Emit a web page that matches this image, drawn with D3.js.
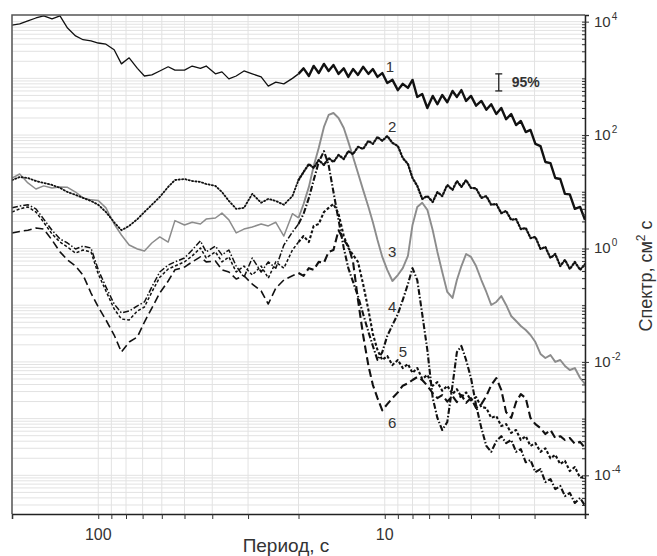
<!DOCTYPE html>
<html>
<head>
<meta charset="utf-8">
<script src="https://cdn.jsdelivr.net/npm/d3@7"></script>
<style>
  body { margin: 0; background: #fff; }
  text { font-family: "Liberation Sans", Arial, sans-serif; fill: #333; }
</style>
</head>
<body>
<div id="chart"></div>
<script>
// periods, s (shared by all curves)
const periods = [200,188,176,165,155,145,136,128,120,113,106,100,94,88,83,78,73,69,65,61,57,54,50,47,44,42,39,37,35,33,31,29,27,25.5,24,22.5,21,20,
  19.2,18.4,17.7,17,16.3,15.7,15.1,14.5,13.9,13.4,12.9,12.4,11.9,11.4,11,10.6,10.2,9.8,9.4,9.0,8.65,8.3,8.0,7.7,7.4,7.1,6.8,6.55,6.3,6.05,
  5.8,5.6,5.4,5.2,5.0,4.8,4.6,4.42,4.25,4.08,3.92,3.77,3.62,3.48,3.35,3.22,3.1,2.98,2.86,2.75,2.64,2.54,2.44,2.35,2.26,2.17,2.08,2.0];

// spectra, cm^2 s
const s1 = [8.7e3,9.1e3,1.03e4,1.16e4,1.26e4,1.12e4,1.26e4,7.7e3,5.6e3,4.8e3,4.6e3,4.2e3,4.0e3,3.2e3,1.8e3,2.3e3,1.5e3,1.1e3,1.15e3,1.35e3,1.6e3,1.4e3,1.4e3,1.65e3,1.5e3,1.65e3,1.2e3,1.3e3,980,1.1e3,1.35e3,1.2e3,1.06e3,730,860,800,1.0e3,1.2e3,
  1.5e3,1.1e3,1.66e3,1.24e3,1.8e3,1.35e3,1.72e3,1.2e3,1.5e3,1.06e3,1.46e3,1.15e3,1.6e3,1.2e3,1.46e3,1.06e3,1.24e3,830,940,620,800,680,940,470,530,300,490,350,510,380,600,470,620,400,490,330,400,280,350,235,300,190,235,150,177,113,123,70,64,33.5,32,17.5,16.8,9.2,9.0,5.0,5.4,3.2];
const s2 = [16.1,18.2,17.5,15.5,14.3,13.2,11.7,9.9,8.8,7.8,6.9,5.9,4.4,2.9,2.1,2.5,3.3,4.4,5.9,8.1,12.2,16.1,16.8,15.5,14.9,13.7,12.7,9.9,6.9,5.0,5.2,9.2,6.4,7.5,6.9,5.9,8.4,16.1,
  22.3,30.9,26.3,36.4,29.7,39.4,33.5,44.6,37.9,52,46,62,57,79,70,93,79,96,73,64,39.4,30.9,17.5,12.7,7.5,8.4,6.6,9.9,8.4,13.2,10.8,15.5,12.2,16.1,11.7,11.5,7.8,8.4,5.9,6.1,4.2,4.6,3.2,3.3,2.2,2.3,1.53,1.6,0.98,1.06,0.68,0.80,0.49,0.63,0.435,0.58,0.42,0.53];
const s3 = [17.5,20.6,14.3,11.2,12.7,11.7,12.2,12.0,9.9,7.8,7.2,7.0,5.2,2.7,1.73,1.15,0.98,0.90,1.25,1.6,1.3,3.1,2.6,2.9,2.7,3.3,3.45,4.2,3.2,1.88,2.2,2.4,2.7,2.5,2.9,1.66,4.1,3.45,
  6.1,12.2,28.5,59,139,226,245,200,133,76,41,21.4,10.8,5.4,2.9,1.41,0.71,0.42,0.267,0.34,0.45,0.74,2.6,5.4,6.4,4.8,2.1,0.87,0.385,0.171,0.134,0.278,0.49,0.80,0.71,0.49,0.278,0.171,0.101,0.114,0.145,0.101,0.0645,0.0526,0.043,0.0365,0.0298,0.0224,0.0138,0.0117,0.0132,0.0100,0.0108,0.0085,0.0072,0.0078,0.0052,0.0041];
const s4 = [5.2,5.6,5.9,5.0,3.3,2.1,1.47,1.25,0.98,1.1,1.02,0.42,0.21,0.105,0.073,0.079,0.097,0.114,0.21,0.385,0.51,0.58,0.68,0.94,1.36,0.87,1.1,0.77,0.94,0.49,0.31,0.68,0.385,0.58,0.45,1.15,1.95,2.7,
  4.1,7.8,16.1,33.5,52,29.7,9.9,3.2,1.02,0.45,0.257,0.145,0.070,0.0337,0.0191,0.0108,0.0149,0.0286,0.0447,0.070,0.124,0.236,0.45,0.278,0.070,0.0162,0.00231,0.00103,6.3e-4,8.7e-4,0.0039,0.0149,0.0191,0.0108,0.0052,0.00174,6.8e-4,3.3e-4,2.6e-4,4.0e-4,4.9e-4,3.7e-4,4.2e-4,2.6e-4,2.9e-4,1.7e-4,1.86e-4,1.14e-4,1.29e-4,7.6e-5,8.6e-5,5.7e-5,6.5e-5,4.3e-5,4.9e-5,3.25e-5,4.0e-5,2.9e-5];
const s5 = [4.4,5.0,5.4,4.4,2.9,1.8,1.3,1.06,0.83,0.94,0.87,0.355,0.178,0.086,0.057,0.055,0.079,0.093,0.171,0.31,0.435,0.49,0.58,0.74,1.02,0.68,0.87,0.58,0.71,0.385,0.49,0.34,0.49,0.30,0.58,0.45,0.94,1.3,
  1.66,1.3,2.5,2.7,4.4,5.2,6.1,4.1,1.66,1.02,0.77,0.58,0.236,0.082,0.031,0.0162,0.0108,0.0127,0.0088,0.0108,0.0078,0.0092,0.0064,0.0078,0.005,0.0059,0.0038,0.0044,0.0031,0.0038,0.0027,0.0033,0.0024,0.0029,0.0021,0.0024,0.0016,0.00154,0.00103,0.00111,7.4e-4,8.0e-4,5.6e-4,6.3e-4,4.2e-4,4.9e-4,3.3e-4,3.7e-4,2.6e-4,3.0e-4,2.0e-4,2.3e-4,1.58e-4,1.8e-4,1.19e-4,1.4e-4,9.0e-5,9.7e-5];
const s6 = [1.88,2.0,2.1,2.3,2.2,1.41,0.87,0.63,0.49,0.34,0.164,0.093,0.055,0.0298,0.0149,0.0224,0.0275,0.0505,0.089,0.164,0.267,0.42,0.47,0.58,0.71,0.58,0.60,0.42,0.385,0.29,0.33,0.236,0.178,0.105,0.20,0.278,0.33,0.37,
  0.33,0.45,0.42,0.58,0.56,0.87,0.94,2.1,1.41,1.1,0.58,0.124,0.0298,0.0085,0.0039,0.0023,0.0014,0.0018,0.0023,0.0029,0.0038,0.0042,0.0048,0.0054,0.0048,0.0038,0.0028,0.0023,0.0026,0.0020,0.0025,0.00196,0.0026,0.0019,0.0023,0.00154,0.0018,0.0025,0.0039,0.0052,0.0032,0.0013,0.00103,0.00196,0.0027,0.0023,0.00103,8.0e-4,6.8e-4,5.35e-4,6.3e-4,4.55e-4,4.9e-4,4.2e-4,4.55e-4,3.6e-4,3.9e-4,3.0e-4];

const xTickLabels = [100, 10];
const yTickLabels = [4, 2, 0, -2, -4];   // exponents of 10
const curveNames = ["1", "2", "3", "4", "5", "6"];
const labelPeriods = [9.6, 9.43, 9.43, 9.43, 8.64, 9.43];
const labelValues = [1.6e3, 140, 0.87, 0.093, 0.0149, 8.4e-4];
const errBar = { period: 4.0, lo: 600, hi: 1.2e3 };

const width = 657, height = 556,
  margin = ({ top: 15, right: 72, bottom: 42, left: 12 });

const svg = d3.select("#chart")
  .append("svg")
  .attr("width", width)
  .attr("height", height);

const x = d3.scaleLog([200, 2], [margin.left, width - margin.right]);
const y = d3.scaleLog([2.08e-5, 1.31e4], [height - margin.bottom, margin.top]);

// grid
svg.append("g")
  .selectAll("line")
  .data(y.ticks())
  .join("line")
  .attr("x1", margin.left).attr("x2", width - margin.right)
  .attr("y1", d => y(d)).attr("y2", d => y(d))
  .attr("stroke", "#e2e2e2").attr("stroke-width", 1);

svg.append("g")
  .selectAll("line")
  .data(x.ticks())
  .join("line")
  .attr("x1", d => x(d)).attr("x2", d => x(d))
  .attr("y1", margin.top).attr("y2", height - margin.bottom)
  .attr("stroke", "#e2e2e2").attr("stroke-width", 1);

svg.append("clipPath").attr("id", "clip")
  .append("rect")
  .attr("x", margin.left).attr("y", margin.top)
  .attr("width", width - margin.left - margin.right)
  .attr("height", height - margin.top - margin.bottom);

// curves: thin on the long-period side, heavier where the spectra get noisy (T < 20 s)
const series = [s1, s2, s3, s4, s5, s6];
const styles = [
  { stroke: "#111", w: 1.3, wn: 2.4, dash: null },
  { stroke: "#111", w: 1.8, wn: 2.3, dash: "1.2,2.2" },
  { stroke: "#8c8c8c", w: 1.5, wn: 1.9, dash: null },
  { stroke: "#111", w: 1.5, wn: 2.1, dash: "6,2,1.5,2" },
  { stroke: "#111", w: 1.5, wn: 2.1, dash: "3,2" },
  { stroke: "#111", w: 1.6, wn: 2.1, dash: "8,4" }
];
const split = periods.indexOf(20);

const line = d3.line()
  .defined((d, i, a) => d != null)
  .x(d => x(d[0]))
  .y(d => y(d[1]));

const pairs = k => series[k].map((v, i) => [periods[i], v]);

const order = [2, 5, 4, 3, 1, 0];
const cg = svg.append("g").attr("clip-path", "url(#clip)");
order.forEach(k => {
  const p = pairs(k);
  cg.append("path")
    .attr("d", line(p.slice(0, split + 1)))
    .attr("fill", "none")
    .attr("stroke", styles[k].stroke)
    .attr("stroke-width", styles[k].w)
    .attr("stroke-dasharray", styles[k].dash)
    .attr("stroke-linecap", k == 1 ? "round" : "butt")
    .attr("stroke-linejoin", "round");
  cg.append("path")
    .attr("d", line(p.slice(split)))
    .attr("fill", "none")
    .attr("stroke", styles[k].stroke)
    .attr("stroke-width", styles[k].wn)
    .attr("stroke-dasharray", styles[k].dash)
    .attr("stroke-linecap", k == 1 ? "round" : "butt")
    .attr("stroke-linejoin", "round");
});

// frame
svg.append("path")
  .attr("d", `M${margin.left},${height - margin.bottom}V${margin.top}H${width - margin.right}`)
  .attr("fill", "none").attr("stroke", "#555").attr("stroke-width", 1.5);

// bottom axis
svg.append("g")
  .attr("transform", `translate(0,${height - margin.bottom})`)
  .call(d3.axisBottom(x).tickValues(x.ticks()).tickSize(5).tickFormat(""))
  .call(g => g.select(".domain").attr("stroke", "#222").attr("stroke-width", 1.5))
  .call(g => g.selectAll(".tick line").attr("stroke", "#333"));

svg.append("g")
  .selectAll("text")
  .data(xTickLabels)
  .join("text")
  .attr("x", d => x(d))
  .attr("y", height - margin.bottom + 26)
  .attr("text-anchor", "middle")
  .attr("font-size", 16)
  .text(d => d);

// right axis
svg.append("g")
  .attr("transform", `translate(${width - margin.right},0)`)
  .call(d3.axisLeft(y).tickValues(y.ticks()).tickSize(3).tickFormat(""))
  .call(g => g.select(".domain").remove())
  .call(g => g.selectAll(".tick line").attr("stroke", "#333"));

svg.append("g")
  .attr("transform", `translate(${width - margin.right},0)`)
  .call(d3.axisRight(y).tickValues(yTickLabels.map(e => Math.pow(10, e))).tickSize(4).tickFormat(""))
  .call(g => g.select(".domain").attr("stroke", "#222").attr("stroke-width", 1.5))
  .call(g => g.selectAll(".tick line").attr("stroke", "#333"));

const yl = svg.append("g")
  .selectAll("text")
  .data(yTickLabels)
  .join("text")
  .attr("x", width - margin.right + 9)
  .attr("y", d => y(Math.pow(10, d)) + 5)
  .attr("font-size", 15);
yl.append("tspan").text("10");
yl.append("tspan").attr("dy", -7).attr("dx", 1).attr("font-size", 10).text(d => d);

// axis titles
svg.append("text")
  .attr("x", 286).attr("y", 552)
  .attr("text-anchor", "middle")
  .attr("font-size", 19)
  .text("Период, с");

const yt = svg.append("text")
  .attr("transform", `translate(652,276) rotate(-90)`)
  .attr("text-anchor", "middle")
  .attr("font-size", 18);
yt.append("tspan").text("Спектр, см");
yt.append("tspan").attr("dy", -7).attr("font-size", 12).text("2");
yt.append("tspan").attr("dy", 7).text(" с");

// curve labels
svg.append("g")
  .selectAll("text")
  .data(curveNames)
  .join("text")
  .attr("x", (d, i) => x(labelPeriods[i]))
  .attr("y", (d, i) => y(labelValues[i]))
  .attr("dy", "0.35em")
  .attr("text-anchor", "middle")
  .attr("font-size", 15)
  .attr("fill", "#444")
  .text(d => d);

// 95% confidence bar
const eb = svg.append("g").attr("stroke", "#222").attr("stroke-width", 1.3);
eb.append("line")
  .attr("x1", x(errBar.period)).attr("x2", x(errBar.period))
  .attr("y1", y(errBar.hi)).attr("y2", y(errBar.lo));
eb.selectAll(".cap")
  .data([errBar.hi, errBar.lo])
  .join("line")
  .attr("x1", x(errBar.period) - 3.5).attr("x2", x(errBar.period) + 3.5)
  .attr("y1", d => y(d)).attr("y2", d => y(d));
svg.append("text")
  .attr("x", x(errBar.period) + 13)
  .attr("y", y(Math.sqrt(errBar.hi * errBar.lo)) + 5)
  .attr("font-size", 14)
  .attr("font-weight", "bold")
  .text("95%");
</script>
</body>
</html>
